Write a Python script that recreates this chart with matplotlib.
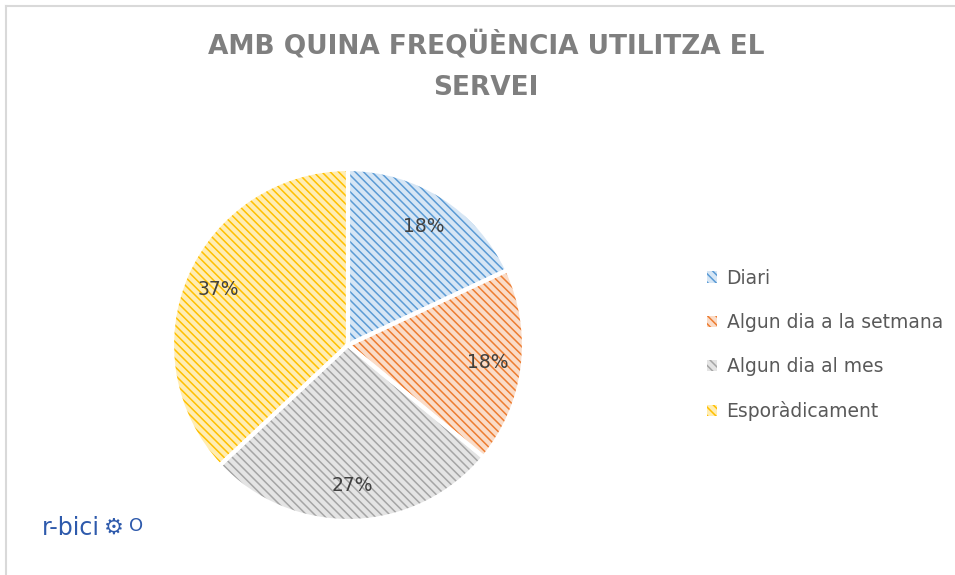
import matplotlib
matplotlib.use("Agg")
import matplotlib.pyplot as plt
from matplotlib.patches import Patch
from matplotlib.lines import Line2D

categories = ["Diari", "Algun dia a la setmana", "Algun dia al mes", "Esporàdicament"]
values = [18, 18, 27, 37]
colors = ["#5B9BD5", "#ED7D31", "#A5A5A5", "#FFC000"]
light = ["#D6E6F5", "#FADCC8", "#E4E4E4", "#FFEDB3"]
title = "AMB QUINA FREQÜÈNCIA UTILITZA EL\nSERVEI"

W, H = 955, 575
fig = plt.figure(figsize=(W / 100, H / 100), dpi=100)
plt.rcParams['hatch.linewidth'] = 1.1

# border
fig.add_artist(Line2D([6 / W, 1], [1 - 6 / H, 1 - 6 / H], color="#D9D9D9", lw=1.5))
fig.add_artist(Line2D([6 / W, 6 / W], [0, 1 - 6 / H], color="#D9D9D9", lw=1.5))

cx, cy, r = 348, 345, 176
ax = fig.add_axes([(cx - r) / W, (H - cy - r) / H, 2 * r / W, 2 * r / H])
ax.axis("off")

hatch = "\\\\\\\\"
wedges, texts = ax.pie(values, startangle=90, counterclock=False, radius=1,
                       colors=light, labels=[f"{v}%" for v in values],
                       labeldistance=0.8,
                       wedgeprops=dict(linewidth=0),
                       textprops=dict(color="#404040", fontsize=13.5, ha="center", va="center"))
for w, c in zip(wedges, colors):
    w.set_hatch(hatch)
    w.set_edgecolor(c)
    w.set_linewidth(0)
w2, _ = ax.pie(values, startangle=90, counterclock=False, radius=1,
               wedgeprops=dict(fill=False, edgecolor="white", linewidth=3))
for w in w2:
    w.set_clip_on(False)
ax.set_xlim(-1, 1)
ax.set_ylim(-1, 1)

handles = [Patch(facecolor=l, edgecolor=c, hatch=hatch, linewidth=0) for l, c in zip(light, colors)]
leg = fig.legend(handles, categories, loc="center left", bbox_to_anchor=(690 / W, 1 - 345 / H),
                 frameon=False, fontsize=13.5, labelcolor="#595959",
                 handlelength=0.55, handleheight=0.55, handletextpad=0.5, labelspacing=1.35)

fig.text(486 / W, 1 - 66 / H, title, ha="center", va="center", fontsize=19,
         fontweight="bold", color="#7F7F7F", linespacing=1.8)

# logo text
fig.text(42 / W, 1 - 528 / H, "r-bici", fontsize=17, color="#2E5AAC", ha="left", va="center",
         family="DejaVu Sans")
fig.text(104 / W, 1 - 528 / H, "⚙", fontsize=16, color="#2E5AAC", ha="left", va="center",
         family="DejaVu Sans")
fig.text(129 / W, 1 - 526 / H, "O", fontsize=13, color="#2E5AAC", ha="left", va="center",
         family="DejaVu Sans")

fig.savefig("out.png", dpi=100)
